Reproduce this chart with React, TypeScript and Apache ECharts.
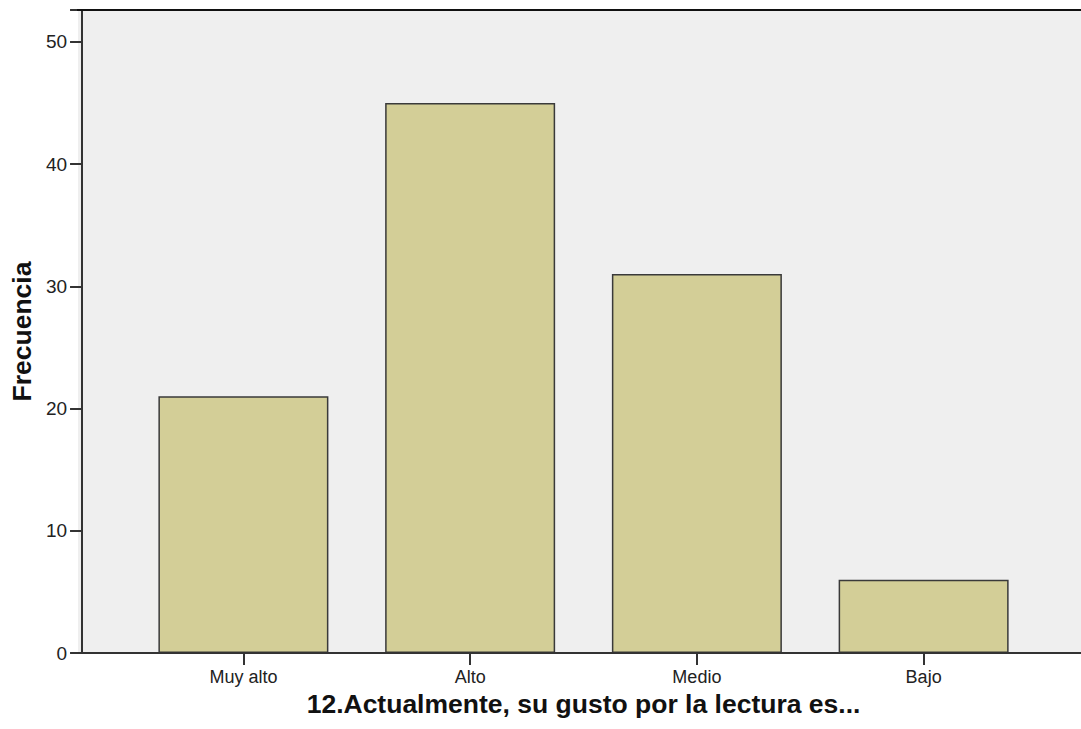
import React, { useEffect, useRef } from "react";
import * as echarts from "echarts";

const categories = ["Muy alto", "Alto", "Medio", "Bajo"];
const frecuencia = [21, 45, 31, 6];
const yTicks = [0, 10, 20, 30, 40, 50];
const xTitle = "12.Actualmente, su gusto por la lectura es...";
const yTitle = "Frecuencia";

const FONT = "'Liberation Sans', Arial, sans-serif";

export default function App() {
  const ref = useRef<HTMLDivElement>(null);
  useEffect(() => {
    const el = ref.current!;
    const chart = echarts.init(el, null, { renderer: "svg" });
    const W = 1081;
    const plotLeft = 78;
    const plotTop = 10;
    const plotBottom = 653;
    const gridLeft = 126;
    chart.setOption({
      animation: false,
      backgroundColor: "#ffffff",
      grid: { left: gridLeft, right: 44, top: plotTop, height: plotBottom - plotTop, containLabel: false },
      xAxis: {
        type: "category",
        data: categories,
        axisLine: { show: false },
        axisTick: { show: true, alignWithLabel: true, length: 12, lineStyle: { color: "#333", width: 2 } },
        axisLabel: { margin: 15, fontSize: 18, color: "#222", fontFamily: FONT },
        name: xTitle,
        nameLocation: "middle",
        nameGap: 37,
        nameTextStyle: { fontSize: 26.5, fontWeight: "bold", color: "#111", fontFamily: FONT },
        splitLine: { show: false },
      },
      yAxis: {
        type: "value",
        min: yTicks[0],
        max: 52.6,
        interval: yTicks[1] - yTicks[0],
        offset: gridLeft - plotLeft,
        axisLine: { show: true, lineStyle: { color: "#333", width: 2 } },
        axisTick: { show: true, length: 12, lineStyle: { color: "#333", width: 2 } },
        axisLabel: {
          margin: 15,
          fontSize: 19,
          color: "#222",
          fontFamily: FONT,
          formatter: (v: number) => (yTicks.includes(v) ? String(v) : ""),
        },
        splitLine: { show: false },
        name: yTitle,
        nameLocation: "middle",
        nameRotate: 90,
        nameGap: 43,
        nameTextStyle: { fontSize: 26.5, fontWeight: "bold", color: "#111", fontFamily: FONT },
      },
      graphic: [
        {
          type: "rect",
          z: -10,
          silent: true,
          shape: { x: plotLeft, y: plotTop, width: W - plotLeft, height: plotBottom - plotTop },
          style: { fill: "#efefef" },
        },
        {
          type: "line",
          z: 10,
          silent: true,
          shape: { x1: plotLeft - 1, y1: plotTop, x2: W, y2: plotTop },
          style: { stroke: "#111", lineWidth: 2 },
        },
        {
          type: "line",
          z: 10,
          silent: true,
          shape: { x1: plotLeft - 1, y1: plotBottom, x2: W, y2: plotBottom },
          style: { stroke: "#333", lineWidth: 2 },
        },
      ],
      series: [
        {
          type: "bar",
          data: frecuencia,
          barWidth: 170,
          itemStyle: { color: "#d3ce97", borderColor: "#3a3a3a", borderWidth: 1.5 },
        },
      ],
    });
    return () => chart.dispose();
  }, []);
  return (
    <div
      ref={ref}
      style={{ position: "fixed", left: 0, top: 0, width: 1081, height: 729 }}
    />
  );
}
